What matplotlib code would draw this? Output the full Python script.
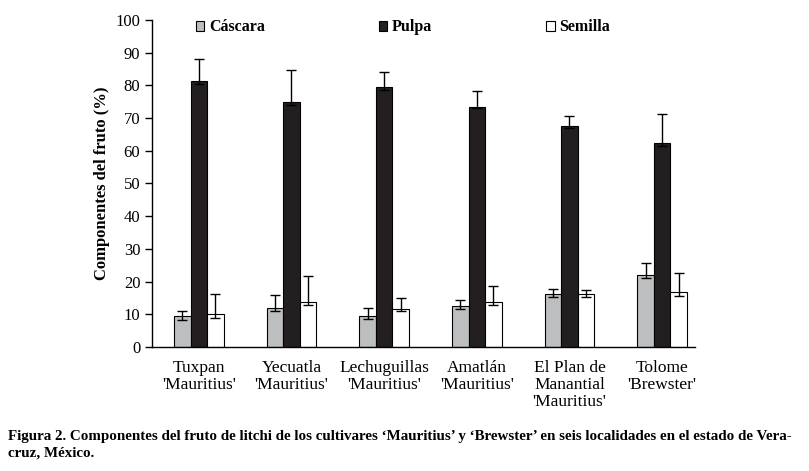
import matplotlib
matplotlib.use("Agg")
import matplotlib.pyplot as plt
import numpy as np

# Locations / cultivars (x tick labels)
localidades = ["Tuxpan\n'Mauritius'", "Yecuatla\n'Mauritius'", "Lechuguillas\n'Mauritius'",
               "Amatlán\n'Mauritius'", "El Plan de\nManantial\n'Mauritius'", "Tolome\n'Brewster'"]

# Means (%)
cascara = [9.4, 12.1, 9.4, 12.7, 16.1, 21.9]
pulpa = [81.3, 74.9, 79.4, 73.5, 67.7, 62.5]
semilla = [10.0, 13.7, 11.8, 13.7, 16.1, 16.7]

# Error bars (upper / lower length)
cascara_up = [1.5, 3.7, 2.6, 1.8, 1.7, 3.9]
cascara_lo = [1.2, 1.2, 0.9, 0.9, 0.9, 0.9]
pulpa_up = [6.7, 9.7, 4.6, 4.7, 2.9, 8.8]
pulpa_lo = [0.9, 0.9, 1.0, 0.6, 0.7, 1.1]
semilla_up = [6.1, 7.9, 3.3, 4.9, 1.4, 6.0]
semilla_lo = [1.2, 0.9, 0.9, 0.9, 0.9, 1.0]

plt.rcParams['font.family'] = ['Liberation Serif', 'DejaVu Serif']

fig = plt.figure(figsize=(8.09, 4.71), dpi=100)
ax = fig.add_axes([0.188, 0.263, 0.671, 0.695])

x = np.arange(len(localidades))
w = 0.178
err_kw = dict(ecolor='black', elinewidth=1.0, capsize=3.6, capthick=1.0)

ax.bar(x - w, cascara, w, color='#bcbec0', edgecolor='black', linewidth=0.8,
       yerr=[cascara_lo, cascara_up], error_kw=err_kw, label='Cáscara')
ax.bar(x, pulpa, w, color='#231f20', edgecolor='black', linewidth=0.8,
       yerr=[pulpa_lo, pulpa_up], error_kw=err_kw, label='Pulpa')
ax.bar(x + w, semilla, w, color='white', edgecolor='black', linewidth=0.8,
       yerr=[semilla_lo, semilla_up], error_kw=err_kw, label='Semilla')

ax.set_xlim(-0.504, 5.354)
ax.set_ylim(0, 100)
ax.set_yticks(np.arange(0, 101, 10))
ax.set_xticks(x)
ax.set_xticklabels(localidades, fontsize=12.5, linespacing=1.1)
ax.tick_params(axis='x', length=0, pad=9)
ax.tick_params(axis='y', direction='out', length=5, labelsize=12, width=1)
ax.spines['top'].set_visible(False)
ax.spines['right'].set_visible(False)
ax.spines['left'].set_linewidth(1.0)
ax.spines['bottom'].set_linewidth(1.0)

ax.set_ylabel('Componentes del fruto (%)', fontsize=12, fontweight='bold', labelpad=4)

leg = ax.legend(ncol=3, loc='upper center', bbox_to_anchor=(0.462, 1.045), frameon=False,
                handlelength=0.55, handleheight=0.55, handletextpad=0.3, columnspacing=7.1,
                prop={'size': 11.5, 'weight': 'bold'})

fig.text(0.01, 0.025, "Figura 2. Componentes del fruto de litchi de los cultivares \u2018Mauritius\u2019 y "
         "\u2018Brewster\u2019 en seis localidades en el estado de Vera-\ncruz, México.",
         fontsize=10.85, fontweight='bold', va='bottom', ha='left', linespacing=1.3)

fig.savefig('out.png', dpi=100)
